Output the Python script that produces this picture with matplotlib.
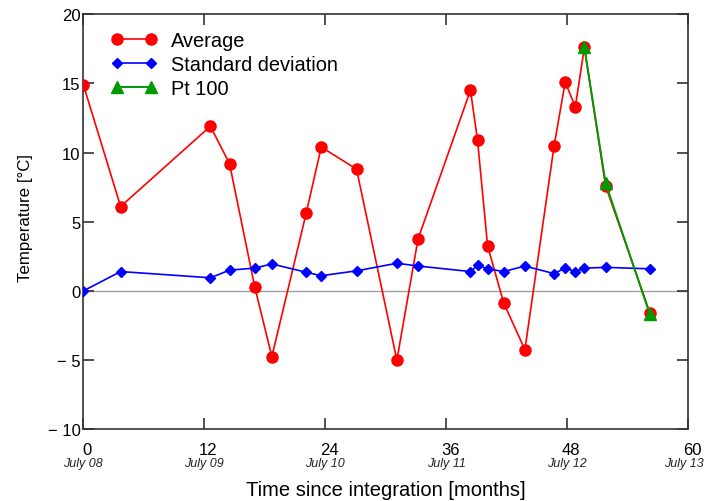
import matplotlib
matplotlib.use("Agg")
import matplotlib.pyplot as plt
import matplotlib.transforms as mtransforms

plt.rcParams['font.family'] = ['Liberation Sans', 'DejaVu Sans']

# Months since integration for each measurement
months = [0.0, 3.7, 12.6, 14.5, 17.0, 18.7, 22.1, 23.6, 27.1, 31.1, 33.2,
          38.4, 39.1, 40.1, 41.7, 43.8, 46.7, 47.8, 48.8, 49.7, 51.8, 56.2]
average = [14.9, 6.1, 11.9, 9.2, 0.3, -4.75, 5.6, 10.4, 8.8, -5.0, 3.75,
           14.5, 10.9, 3.25, -0.87, -4.25, 10.5, 15.1, 13.3, 17.6, 7.6, -1.6]
std_dev = [0.0, 1.4, 0.95, 1.5, 1.65, 1.95, 1.35, 1.1, 1.45, 2.0, 1.8,
           1.4, 1.85, 1.6, 1.4, 1.8, 1.25, 1.65, 1.4, 1.65, 1.7, 1.6]
pt100_months = [49.7, 51.8, 56.2]
pt100 = [17.6, 7.8, -1.7]

xticks = [0, 12, 24, 36, 48, 60]
date_labels = ["July 08", "July 09", "July 10", "July 11", "July 12", "July 13"]
yticks = [20, 15, 10, 5, 0, -5, -10]
ytick_labels = ["20", "15", "10", "5", "0", "\u2212 5", "\u2212 10"]

fig = plt.figure(figsize=(7.05, 5.02), dpi=100)
ax = fig.add_axes([0.1182, 0.1428, 0.858, 0.827])

ax.axhline(0, color="#a0a0a0", lw=1.0, zorder=1)

ax.plot(months, average, color="red", lw=1.2, marker="o", ms=8,
        label="Average", zorder=3)
ax.plot(months, std_dev, color="blue", lw=1.2, marker="D", ms=5.5,
        label="Standard deviation", zorder=3)
ax.plot(pt100_months, pt100, color="#009900", lw=1.4, marker="^", ms=8,
        label="Pt 100", zorder=4)

ax.set_xlim(0, 60)
ax.set_ylim(-10, 20)
ax.set_xticks(xticks)
ax.set_xticklabels([str(t) for t in xticks], fontsize=12)
ax.set_yticks(yticks)
ax.set_yticklabels(ytick_labels, fontsize=12)

ax.tick_params(direction="in", length=8, width=1.2, top=True, right=True,
               color="#333333", pad=2)
ax.tick_params(axis="x", pad=9)
for spine in ax.spines.values():
    spine.set_linewidth(1.2)
    spine.set_color("#333333")

# shift numeric x labels slightly right
offset = mtransforms.ScaledTranslation(4 / 100, 0, fig.dpi_scale_trans)
for lbl in ax.get_xticklabels():
    lbl.set_transform(lbl.get_transform() + offset)

# calendar dates under the month ticks
trans = mtransforms.blended_transform_factory(ax.transData, ax.transAxes)
for i, (t, d) in enumerate(zip(xticks, date_labels)):
    tr = trans
    if i == len(xticks) - 1:
        # keep the last date inside the figure edge
        tr = trans + mtransforms.ScaledTranslation(-4 / 100, 0, fig.dpi_scale_trans)
    ax.text(t, -0.067, d, transform=tr, ha="center", va="top",
            fontsize=9, style="italic", color="#222222")

ax.set_ylabel("Temperature [\u00b0C]", fontsize=12.2)
ax.yaxis.set_label_coords(-0.083, 0.511)
ax.set_xlabel("Time since integration [months]", fontsize=14.5, labelpad=16.5)

ax.legend(loc="upper left", bbox_to_anchor=(0.045, 0.960), frameon=False,
          numpoints=2, fontsize=14.4, handlelength=2.3, handletextpad=0.7,
          labelspacing=0.25, borderpad=0, borderaxespad=0)

fig.savefig("out.png", dpi=100)
